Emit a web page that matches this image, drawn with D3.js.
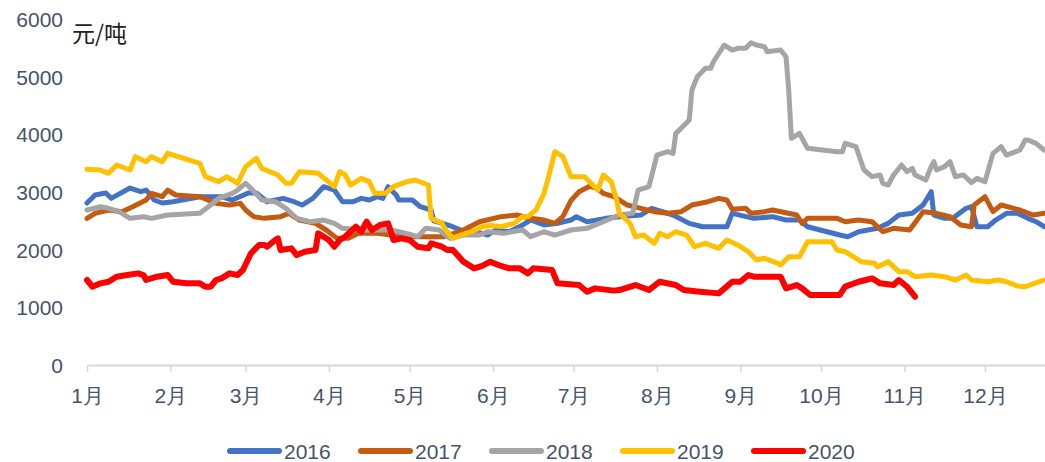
<!DOCTYPE html>
<html><head><meta charset="utf-8">
<script src="https://cdn.jsdelivr.net/npm/d3@7"></script>
<style>body{margin:0;background:#fff;} svg{display:block;}</style>
</head><body>
<svg id="chart" width="1045" height="462"></svg>
<script>
const months = ["1月","2月","3月","4月","5月","6月","7月","8月","9月","10月","11月","12月"];
const years = ["2016","2017","2018","2019","2020"];
const yTicks = [0,1000,2000,3000,4000,5000,6000];
const unitLabel = "元/吨";

const s2016 = [["1/1",2809],["1/4",2948],["1/8",2982],["1/10",2890],["1/17",3069],["1/21",3005],["1/23",3034],["1/26",2861],["1/29",2809],["2/2",2832],["2/12",2919],["2/20",2919],["2/24",2861],["3/2",2982],["3/5",2982],["3/9",2832],["3/15",2890],["3/19",2832],["3/22",2774],["3/26",2890],["3/30",3092],["4/3",3034],["4/6",2832],["4/10",2832],["4/13",2890],["4/16",2861],["4/19",2919],["4/21",2890],["4/23",3092],["4/26",2948],["4/27",2861],["5/2",2861],["5/5",2745],["5/9",2688],["5/10",2500],["5/13",2462],["5/17",2398],["5/20",2341],["5/25",2311],["5/28",2283],["5/30",2254],["6/2",2341],["6/7",2311],["6/11",2400],["6/15",2514],["6/20",2428],["6/25",2456],["6/30",2514],["7/2",2572],["7/6",2485],["7/13",2543],["7/18",2572],["7/26",2601],["7/30",2717],["8/7",2601],["8/13",2456],["8/18",2398],["8/27",2398],["8/29",2630],["9/6",2543],["9/13",2572],["9/18",2514],["9/23",2514],["9/26",2398],["10/8",2254],["10/11",2225],["10/15",2311],["10/22",2370],["10/26",2456],["10/30",2601],["11/4",2630],["11/8",2774],["11/11",3005],["11/12",2601],["11/16",2543],["11/19",2543],["11/24",2717],["11/26",2745],["11/28",2398],["12/2",2398],["12/5",2514],["12/9",2630],["12/13",2630],["12/17",2543],["12/20",2485],["12/23",2398]];

const s2017 = [["1/1",2543],["1/4",2630],["1/9",2688],["1/14",2659],["1/18",2745],["1/23",2861],["1/25",2977],["1/29",2919],["1/31",3034],["2/3",2948],["2/12",2919],["2/18",2803],["2/23",2774],["2/27",2803],["3/1",2688],["3/4",2572],["3/8",2543],["3/14",2572],["3/17",2630],["3/21",2514],["3/27",2456],["3/31",2341],["4/4",2196],["4/8",2196],["4/12",2283],["4/19",2283],["4/24",2254],["4/30",2225],["5/6",2225],["5/14",2225],["5/21",2341],["5/27",2485],["6/4",2572],["6/10",2601],["6/15",2543],["6/20",2514],["6/24",2456],["6/27",2572],["6/30",2850],["7/3",3005],["7/7",3100],["7/10",3060],["7/12",2977],["7/16",2919],["7/21",2774],["7/26",2717],["7/31",2659],["8/5",2630],["8/10",2659],["8/14",2774],["8/20",2832],["8/24",2890],["8/27",2861],["8/29",2700],["9/3",2717],["9/5",2630],["9/10",2659],["9/13",2688],["9/22",2601],["9/24",2456],["9/26",2543],["10/7",2543],["10/10",2485],["10/15",2514],["10/20",2485],["10/24",2311],["10/28",2370],["11/3",2341],["11/8",2659],["11/13",2630],["11/18",2572],["11/22",2428],["11/26",2398],["11/27",2774],["12/1",2919],["12/4",2659],["12/7",2774],["12/14",2688],["12/19",2601],["12/23",2630]];

const s2018 = [["1/1",2688],["1/6",2745],["1/9",2717],["1/13",2659],["1/17",2543],["1/22",2572],["1/25",2543],["1/31",2601],["2/12",2630],["2/16",2774],["2/19",2890],["2/24",2977],["2/26",3034],["3/1",3150],["3/3",3063],["3/7",2861],["3/12",2832],["3/16",2717],["3/20",2543],["3/25",2485],["3/30",2514],["4/3",2456],["4/6",2370],["4/14",2341],["4/24",2341],["4/27",2311],["5/2",2254],["5/4",2225],["5/7",2370],["5/12",2341],["5/16",2196],["5/21",2254],["5/27",2254],["5/30",2311],["6/5",2283],["6/12",2341],["6/15",2225],["6/20",2311],["6/24",2254],["6/30",2341],["7/6",2370],["7/12",2485],["7/18",2601],["7/23",2630],["7/25",3034],["7/29",3092],["8/1",3641],["8/5",3699],["8/7",3670],["8/8",4017],["8/10",4104],["8/13",4248],["8/14",4768],["8/16",4999],["8/19",5145],["8/21",5145],["8/22",5259],["8/26",5549],["8/29",5462],["8/31",5491],["9/3",5491],["9/5",5588],["9/7",5549],["9/10",5520],["9/11",5433],["9/16",5462],["9/18",5346],["9/19",4768],["9/20",3930],["9/23",4017],["9/26",3757],["10/7",3699],["10/9",3699],["10/10",3844],["10/14",3786],["10/17",3381],["10/20",3266],["10/23",3295],["10/24",3150],["10/26",3121],["10/28",3295],["10/31",3468],["11/2",3352],["11/4",3410],["11/5",3295],["11/9",3208],["11/11",3439],["11/12",3526],["11/13",3381],["11/16",3439],["11/18",3526],["11/20",3266],["11/23",3295],["11/26",3162],["11/28",3237],["12/1",3179],["12/4",3670],["12/7",3786],["12/9",3641],["12/14",3728],["12/16",3901],["12/17",3901],["12/20",3844],["12/23",3728]];

const s2019 = [["1/1",3393],["1/6",3381],["1/9",3324],["1/12",3468],["1/17",3381],["1/19",3612],["1/23",3526],["1/25",3612],["1/29",3526],["1/31",3670],["2/12",3497],["2/14",3266],["2/19",3179],["2/22",3266],["2/26",3150],["3/1",3439],["3/5",3584],["3/7",3410],["3/13",3295],["3/16",3150],["3/18",3150],["3/21",3352],["3/25",3340],["3/28",3324],["4/3",3092],["4/5",3352],["4/7",3300],["4/9",3121],["4/13",3237],["4/16",3179],["4/18",2977],["4/22",2977],["4/25",3092],["4/30",3179],["5/3",3208],["5/8",3121],["5/9",2543],["5/13",2462],["5/14",2370],["5/17",2196],["5/20",2254],["5/24",2311],["5/28",2398],["5/31",2420],["6/4",2400],["6/9",2456],["6/12",2572],["6/14",2572],["6/17",2688],["6/20",2977],["6/22",3324],["6/24",3699],["6/27",3612],["6/30",3266],["7/5",3266],["7/10",3034],["7/12",3295],["7/15",3179],["7/17",2861],["7/18",2630],["7/22",2456],["7/24",2225],["7/27",2254],["7/31",2110],["8/2",2283],["8/5",2225],["8/8",2311],["8/12",2254],["8/15",2051],["8/19",2110],["8/24",2023],["8/27",2167],["8/31",2081],["9/4",1965],["9/7",1821],["9/10",1850],["9/15",1763],["9/16",1734],["9/19",1878],["9/23",1878],["9/26",2138],["10/5",2138],["10/7",1994],["10/10",1965],["10/16",1792],["10/21",1763],["10/22",1705],["10/26",1792],["10/30",1618],["11/2",1618],["11/5",1531],["11/11",1561],["11/16",1531],["11/20",1474],["11/24",1561],["11/26",1474],["12/2",1444],["12/6",1474],["12/9",1444],["12/13",1370],["12/16",1358],["12/23",1474]];

const s2020 = [["1/1",1474],["1/3",1358],["1/6",1416],["1/9",1444],["1/12",1531],["1/16",1561],["1/20",1589],["1/22",1560],["1/23",1474],["1/27",1531],["1/31",1561],["2/2",1444],["2/7",1416],["2/12",1416],["2/14",1358],["2/16",1358],["2/18",1474],["2/20",1503],["2/23",1589],["2/26",1561],["2/28",1647],["3/3",1937],["3/6",2081],["3/8",2081],["3/9",2051],["3/12",2167],["3/13",2196],["3/14",1994],["3/18",2023],["3/20",1907],["3/23",1965],["3/27",1994],["3/28",2283],["4/1",2167],["4/3",2051],["4/5",2167],["4/7",2225],["4/11",2398],["4/13",2311],["4/15",2485],["4/17",2341],["4/20",2428],["4/23",2456],["4/25",2167],["4/28",2196],["5/1",2167],["5/4",2051],["5/8",2023],["5/9",2110],["5/13",2051],["5/15",1994],["5/17",2000],["5/21",1792],["5/25",1676],["5/28",1720],["5/31",1792],["6/3",1734],["6/7",1676],["6/11",1676],["6/14",1589],["6/16",1676],["6/23",1647],["6/25",1416],["7/3",1387],["7/6",1271],["7/9",1329],["7/16",1290],["7/18",1300],["7/24",1387],["7/29",1300],["8/2",1444],["8/8",1387],["8/11",1300],["8/17",1271],["8/24",1242],["8/29",1444],["9/1",1444],["9/4",1561],["9/6",1531],["9/16",1531],["9/18",1329],["9/22",1387],["9/24",1329],["9/27",1214],["10/8",1214],["10/10",1358],["10/15",1444],["10/20",1503],["10/23",1416],["10/28",1387],["10/30",1474],["11/2",1358],["11/5",1184]];

const seriesData = [s2016, s2017, s2018, s2019, s2020];
const colors = ["#4472C4","#C55A11","#A5A5A5","#FFC000","#FF0000"];
const widths = [5, 5, 5, 5, 6];

const txtColor = "#44546A";
const font = "'Liberation Sans', Arial, sans-serif";

const svg = d3.select("#chart");
const parse = s => { const [m, d] = s.split("/").map(Number); return new Date(2019, m - 1, d); };

const x = d3.scaleTime()
  .domain([new Date(2019, 0, 1), new Date(2019, 11, 23, 8)])
  .range([87, 1045]);
const y = d3.scaleLinear().domain([0, 6000]).range([365, 19]);

// x axis
const monthStarts = d3.range(12).map(i => new Date(2019, i, 1));
const xAxis = d3.axisBottom(x).tickValues(monthStarts).tickFormat((d, i) => months[i])
  .tickSizeInner(7).tickSizeOuter(0);
const gx = svg.append("g").attr("transform", "translate(0,365)").call(xAxis);
gx.select(".domain").attr("stroke", "#D9D9D9").attr("stroke-width", 2);
gx.selectAll(".tick line").attr("stroke", "#D9D9D9").attr("stroke-width", 1.5);
gx.selectAll(".tick text").attr("y", 38).attr("dy", 0)
  .attr("fill", txtColor).style("font-family", font).style("font-size", "21px");

// y labels
svg.append("g").selectAll("text").data(yTicks).join("text")
  .attr("x", 63).attr("y", d => y(d) + 8)
  .attr("text-anchor", "end")
  .attr("fill", txtColor).style("font-family", font).style("font-size", "21px")
  .text(d => d);

// unit label
svg.append("text").attr("x", 72).attr("y", 42)
  .attr("fill", "#222").style("font-family", "'Noto Sans CJK SC', sans-serif").style("font-size", "23px")
  .text(unitLabel);

// lines
const line = d3.line().x(d => x(parse(d[0]))).y(d => y(d[1]));
seriesData.forEach((s, i) => {
  svg.append("path").datum(s)
    .attr("d", line)
    .attr("fill", "none")
    .attr("stroke", colors[i])
    .attr("stroke-width", widths[i])
    .attr("stroke-linejoin", "round")
    .attr("stroke-linecap", "round");
});

// legend
const lg = svg.append("g");
years.forEach((yr, i) => {
  const x0 = 227 + i * 131;
  lg.append("line").attr("x1", x0 + 3).attr("x2", x0 + 52).attr("y1", 451).attr("y2", 451)
    .attr("stroke", colors[i]).attr("stroke-width", 6).attr("stroke-linecap", "round");
  lg.append("text").attr("x", x0 + 57).attr("y", 459)
    .attr("fill", txtColor).style("font-family", font).style("font-size", "21px")
    .text(yr);
});
</script>
</body></html>
